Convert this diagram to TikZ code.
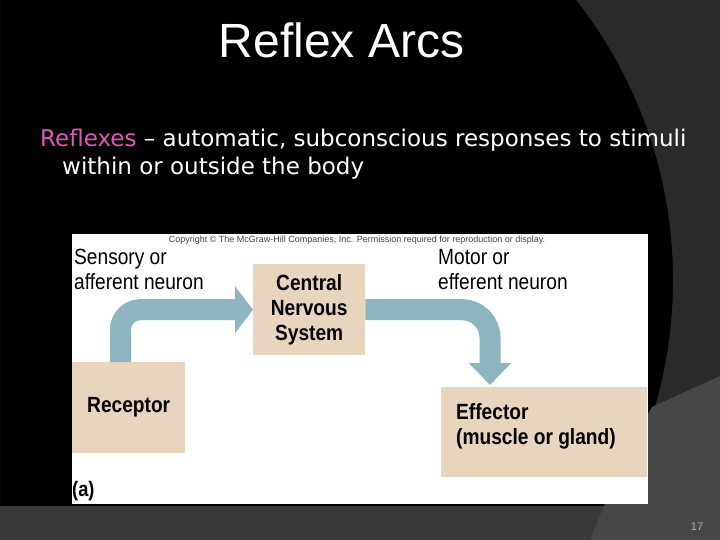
\documentclass[tikz,border=0pt]{standalone}
\usepackage{fontspec}
\setmainfont{Liberation Sans}
\newfontfamily\figfont[FakeStretch=0.87]{Liberation Sans}
\newfontfamily\notefont{DejaVu Sans}
\usetikzlibrary{calc}
\usetikzlibrary{arrows.meta}
\usetikzlibrary{positioning}

\definecolor{slidegray}{HTML}{2A2A2A}
\definecolor{bandgray}{HTML}{3A3A3A}
\definecolor{cornergray}{HTML}{474747}
\definecolor{boxtan}{HTML}{E8D5BE}
\definecolor{nerve}{HTML}{8DB5C0}
\definecolor{pinktext}{HTML}{E256B8}

\tikzset{
  organ/.style = {fill=boxtan, inner sep=0pt, anchor=north west,
    font=\figfont\fontsize{22}{25}\selectfont\bfseries, align=center},
  neuronlabel/.style = {inner sep=0pt, anchor=north west, align=left,
    font=\figfont\fontsize{22}{25}\selectfont},
  nervearrow/.style = {line width=21pt, color=nerve,
    -{Triangle[width=46pt,length=18pt]}}
}

\begin{document}
\begin{tikzpicture}[x=1pt, y=-1pt]
  \useasboundingbox (0,0) rectangle (720,540);

  % slide background
  \fill[black] (0,0) rectangle (720,540);
  \fill[slidegray, even odd rule] (0,0) rectangle (720,540) (220,280) circle (453pt);
  \fill[bandgray] (0,506) rectangle (720,540);
  \fill[cornergray] (720,376) -- (652,407)
    .. controls (630,445) and (608,495) .. (590,540) -- (720,540) -- cycle;

  \node[text=white, font=\fontsize{48}{52}\selectfont] (title) at (341.5,40) {Reflex Arcs};
  \node[text=white, anchor=base west, inner sep=0pt, font=\notefont\fontsize{23}{28}\selectfont]
    (intro) at (40,147) {\textcolor{pinktext}{Reflexes} – automatic, subconscious responses to stimuli};
  \node[text=white, anchor=base west, inner sep=0pt, font=\notefont\fontsize{23}{28}\selectfont]
    (intro2) at (62,175) {within or outside the body};

  % figure
  \fill[white] (72,234) rectangle (648,504);
  \node[text=black!75, font=\fontsize{9}{10}\selectfont] (copyright) at (357,240)
    {Copyright © The McGraw-Hill Companies, Inc. Permission required for reproduction or display.};

  \node[organ, minimum width=113pt, minimum height=91pt] (rec) at (72,362) {Receptor};
  \node[organ, minimum width=112pt, minimum height=91pt] (cns) at (253,264) {Central\\Nervous\\System};
  \node[organ, minimum width=206pt, minimum height=90pt] (eff) at (441,387) {};
  \node[neuronlabel, font=\figfont\fontsize{22}{25}\selectfont\bfseries]
    (efftxt) at ($(eff.north west)+(15,16)$) {Effector\\(muscle or gland)};

  \node[neuronlabel] (sensory) at (74,249) {Sensory or\\afferent neuron};
  \node[neuronlabel] (motor) at (438,249) {Motor or\\efferent neuron};

  \draw[nervearrow, rounded corners=20pt] ($(rec.north west)+(48.5,0)$) |- (cns.west);
  \draw[nervearrow, rounded corners=28pt, -{Triangle[width=41pt,length=22pt]}]
    (cns.east) -| ($(eff.north west)+(49,-2)$);

  \node[anchor=west, inner sep=0pt, font=\figfont\fontsize{21}{24}\selectfont\bfseries] (part) at (72,491) {(a)};
  \node[text=black!30, font=\fontsize{11}{13}\selectfont] (pagenum) at (697,527) {17};
\end{tikzpicture}
\end{document}
